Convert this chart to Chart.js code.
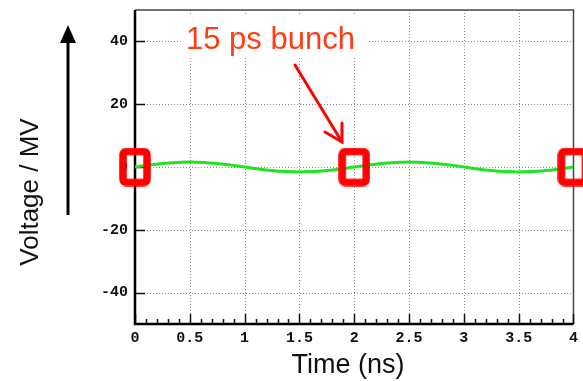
<!DOCTYPE html>
<html>
<head>
<meta charset="utf-8">
<script src="https://cdn.jsdelivr.net/npm/chart.js@4"></script>
<style>
  body { margin: 0; background: #fff; }
  #wrap { width: 583px; height: 381px; }
</style>
</head>
<body>
<div id="wrap"><canvas id="myChart" width="583" height="381"></canvas></div>
<script>
// time axis (ns) and cavity voltage (MV)
const timeNs = [0, 0.125, 0.25, 0.375, 0.5, 0.625, 0.75, 0.875,
  1, 1.125, 1.25, 1.375, 1.5, 1.625, 1.75, 1.875,
  2, 2.125, 2.25, 2.375, 2.5, 2.625, 2.75, 2.875,
  3, 3.125, 3.25, 3.375, 3.5, 3.625, 3.75, 3.875, 4];
const voltageMV = [0, 0.6, 1.1, 1.45, 1.6, 1.45, 1.1, 0.6,
  0, -0.6, -1.1, -1.45, -1.6, -1.45, -1.1, -0.6,
  0, 0.6, 1.1, 1.45, 1.6, 1.45, 1.1, 0.6,
  0, -0.6, -1.1, -1.45, -1.6, -1.45, -1.1, -0.6, 0];

// bunch positions
const bunchTimes = [0, 2, 4];
const bunchVoltage = [0, 0, 0];

// tick labels
const xTicks = [0, 0.5, 1, 1.5, 2, 2.5, 3, 3.5, 4];
const xMinorTicks = [];
for (let i = 0; i <= 40; i++) xMinorTicks.push(i / 10);
const yTicks = [-40, -20, 0, 20, 40];

const tickFont = 'bold 15px "Liberation Mono", "Courier New", monospace';

// hollow red box marker
const marker = document.createElement('canvas');
marker.width = 32; marker.height = 39;
(function () {
  const c = marker.getContext('2d');
  c.strokeStyle = '#ff0000';
  c.lineWidth = 7.5;
  c.beginPath();
  c.roundRect(4, 4, 24, 31, 3);
  c.stroke();
})();

const frame = {
  id: 'frame',
  beforeDatasetsDraw(chart) {
    const { ctx, chartArea: a, scales: { x, y } } = chart;
    ctx.save();
    // dotted grid
    ctx.strokeStyle = '#8c8c8c';
    ctx.lineWidth = 1;
    ctx.setLineDash([1, 2]);
    xTicks.forEach(v => {
      if (v === 0 || v === 4) return;
      const px = Math.round(x.getPixelForValue(v)) + 0.5;
      ctx.beginPath(); ctx.moveTo(px, a.top); ctx.lineTo(px, a.bottom); ctx.stroke();
    });
    yTicks.forEach(v => {
      const py = Math.round(y.getPixelForValue(v)) + 0.5;
      ctx.beginPath(); ctx.moveTo(a.left, py); ctx.lineTo(a.right, py); ctx.stroke();
    });
    ctx.setLineDash([]);
    // top + right border
    ctx.strokeStyle = '#444';
    ctx.lineWidth = 1.5;
    ctx.beginPath();
    ctx.moveTo(a.left, a.top); ctx.lineTo(a.right, a.top); ctx.lineTo(a.right, a.bottom);
    ctx.stroke();
    // inward ticks
    ctx.strokeStyle = '#111';
    ctx.lineWidth = 1.5;
    yTicks.forEach(v => {
      const py = Math.round(y.getPixelForValue(v)) + 0.5;
      ctx.beginPath(); ctx.moveTo(a.left, py); ctx.lineTo(a.left + 10, py); ctx.stroke();
    });
    xMinorTicks.forEach(v => {
      const px = Math.round(x.getPixelForValue(v)) + 0.5;
      const len = xTicks.includes(v) ? 10 : 5;
      ctx.beginPath(); ctx.moveTo(px, a.bottom); ctx.lineTo(px, a.bottom - len); ctx.stroke();
    });
    // left + bottom axis
    ctx.strokeStyle = '#000';
    ctx.lineWidth = 2.5;
    ctx.beginPath();
    ctx.moveTo(a.left, a.top); ctx.lineTo(a.left, a.bottom); ctx.lineTo(a.right, a.bottom);
    ctx.stroke();
    // y tick labels
    ctx.fillStyle = '#111';
    ctx.font = tickFont;
    ctx.textAlign = 'right';
    ctx.textBaseline = 'middle';
    yTicks.forEach(v => ctx.fillText(String(v), a.left - 7, y.getPixelForValue(v)));
    ctx.restore();
  },
  afterDraw(chart) {
    const { ctx } = chart;
    ctx.save();
    // axis titles
    ctx.fillStyle = '#111';
    ctx.textAlign = 'center';
    ctx.textBaseline = 'middle';
    ctx.font = '27px "Liberation Sans", Arial, sans-serif';
    ctx.fillText('Time (ns)', 348, 366);
    ctx.translate(31, 192);
    ctx.rotate(-Math.PI / 2);
    ctx.font = '26px "Liberation Sans", Arial, sans-serif';
    ctx.fillText('Voltage / MV', 0, 0);
    ctx.restore();

    ctx.save();
    // black arrow beside the y title
    ctx.strokeStyle = '#000';
    ctx.fillStyle = '#000';
    ctx.lineWidth = 3;
    ctx.beginPath(); ctx.moveTo(68, 215); ctx.lineTo(68, 40); ctx.stroke();
    ctx.beginPath(); ctx.moveTo(68, 25); ctx.lineTo(60, 43); ctx.lineTo(76, 43); ctx.closePath(); ctx.fill();

    // label with white backing
    ctx.fillStyle = '#fff';
    ctx.fillRect(183, 16, 186, 42);
    ctx.fillStyle = '#ff3c14';
    ctx.font = '31px "Liberation Sans", Arial, sans-serif';
    ctx.textAlign = 'left';
    ctx.textBaseline = 'alphabetic';
    ctx.fillText('15 ps bunch', 186, 49);

    // red pointer arrow
    ctx.strokeStyle = '#ff0000';
    ctx.lineWidth = 3;
    ctx.lineCap = 'round';
    ctx.beginPath(); ctx.moveTo(295, 65); ctx.lineTo(342, 142); ctx.stroke();
    ctx.beginPath(); ctx.moveTo(325, 132); ctx.lineTo(342, 142); ctx.lineTo(342, 123); ctx.stroke();
    ctx.restore();
  }
};

new Chart(document.getElementById('myChart'), {
  type: 'line',
  data: {
    datasets: [{
      label: 'Voltage',
      data: timeNs.map((t, i) => ({ x: t, y: voltageMV[i] })),
      borderColor: '#1ee61e',
      borderWidth: 3,
      pointRadius: 0,
      tension: 0.4,
      order: 2
    }, {
      label: 'Bunch',
      data: bunchTimes.map((t, i) => ({ x: t, y: bunchVoltage[i] })),
      showLine: false,
      pointStyle: marker,
      pointRadius: 15,
      clip: false,
      order: 1
    }]
  },
  options: {
    responsive: false,
    animation: false,
    layout: { autoPadding: false, padding: { top: 10, right: 8, left: 0, bottom: 0 } },
    plugins: { legend: { display: false }, tooltip: { enabled: false } },
    scales: {
      x: {
        type: 'linear',
        min: 0, max: 4,
        afterBuildTicks: s => { s.ticks = xTicks.map(v => ({ value: v })); },
        afterFit: s => { s.height = 57; },
        grid: { display: false, drawTicks: false },
        border: { display: false },
        ticks: {
          padding: 5,
          maxRotation: 0,
          autoSkip: false,
          color: '#111',
          callback: v => String(v),
          font: { family: '"Liberation Mono", "Courier New", monospace', size: 15, weight: 'bold' }
        }
      },
      y: {
        min: -50, max: 50,
        afterBuildTicks: s => { s.ticks = yTicks.map(v => ({ value: v })); },
        afterFit: s => { s.width = 135; },
        grid: { display: false, drawTicks: false },
        border: { display: false },
        ticks: { display: false }
      }
    }
  },
  plugins: [frame]
});
</script>
</body>
</html>
